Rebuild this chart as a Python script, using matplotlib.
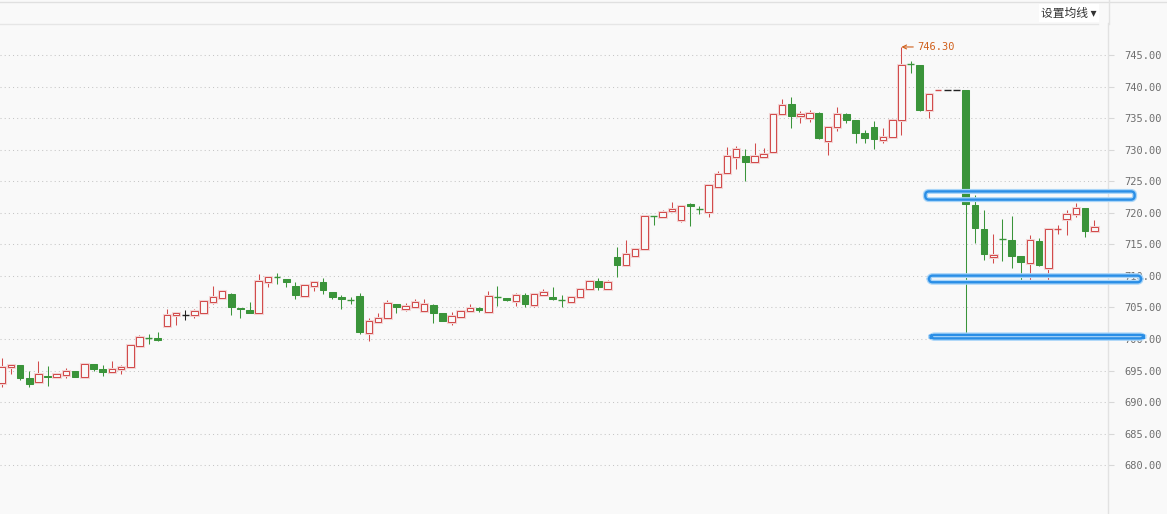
import numpy as np
import matplotlib.pyplot as plt
import matplotlib.patheffects as pe
from matplotlib.patches import FancyBboxPatch
from matplotlib.lines import Line2D

# daily OHLC (oldest first)
opens = [692.98, 695.6, 695.85, 693.8, 693.2, 694.2, 694.0, 694.35, 694.9, 693.95,
         696.0, 695.25, 694.8, 695.2, 695.6, 698.95, 700.15, 700.1, 702.06, 703.8,
         703.8, 703.75, 704.15, 705.9, 706.55, 707.1, 704.9, 704.6, 704.05, 709.1,
         709.85, 709.45, 708.4, 706.8, 708.45, 709.0, 707.4, 706.6, 706.25, 706.8,
         701.0, 702.75, 703.3, 705.5, 704.8, 705.1, 704.5, 705.4, 704.05, 702.75,
         703.55, 704.5, 704.9, 704.3, 706.65, 706.45, 706.1, 707.0, 705.4, 707.0,
         706.6, 706.25, 705.8, 706.7, 707.9, 709.2, 708.0, 713.0, 711.8, 713.2,
         714.3, 719.5, 719.4, 720.3, 718.9, 721.4, 720.6, 720.2, 724.1, 726.25,
         728.9, 729.0, 728.0, 728.9, 729.7, 735.6, 737.2, 735.3, 735.0, 735.8,
         731.4, 733.55, 735.65, 734.7, 732.7, 733.6, 731.6, 731.95, 734.8, 743.65,
         743.4, 736.3, 739.5, 739.55, 739.55, 739.55, 721.2, 717.5, 713.0, 715.9,
         715.65, 713.1, 712.1, 715.5, 711.2, 717.35, 718.95, 719.75, 720.7, 717.1]
highs = [697.0, 695.9, 695.9, 694.9, 696.5, 695.7, 694.6, 695.35, 695.0, 696.0,
         696.05, 695.9, 696.5, 695.9, 699.1, 700.65, 700.75, 701.15, 704.7, 704.1,
         704.6, 704.75, 706.05, 708.4, 707.7, 707.35, 704.9, 705.8, 710.25, 709.8,
         710.4, 709.5, 709.0, 708.7, 709.0, 709.6, 707.45, 707.0, 706.6, 707.3,
         703.4, 704.2, 706.2, 705.6, 705.7, 706.3, 706.3, 705.5, 704.1, 704.3,
         704.5, 705.5, 705.15, 707.6, 708.4, 706.5, 707.35, 707.3, 707.1, 707.9,
         708.3, 707.0, 706.7, 708.0, 709.2, 709.6, 709.4, 714.6, 715.7, 714.3,
         719.7, 719.5, 720.4, 721.65, 721.1, 721.5, 721.1, 724.5, 726.6, 730.4,
         730.6, 730.2, 731.1, 730.3, 735.6, 738.0, 738.4, 736.1, 736.3, 735.95,
         733.6, 736.8, 735.9, 734.8, 733.1, 734.55, 733.4, 734.9, 746.3, 744.05,
         743.5, 738.9, 739.55, 739.55, 739.55, 739.55, 722.8, 720.4, 716.6, 719.0,
         719.5, 713.1, 716.45, 716.0, 717.6, 718.05, 720.4, 721.6, 720.7, 718.85]
lows = [692.4, 694.5, 693.5, 692.4, 693.2, 692.6, 693.9, 693.85, 693.95, 693.9,
        695.0, 694.2, 694.8, 694.4, 695.6, 698.9, 699.15, 699.7, 702.0, 702.2,
        703.0, 703.3, 704.1, 705.5, 706.3, 703.8, 703.4, 704.1, 704.0, 708.2,
        708.7, 708.2, 706.3, 706.8, 707.65, 707.1, 706.3, 704.7, 705.5, 700.8,
        699.7, 702.7, 703.3, 704.1, 704.4, 705.1, 704.5, 702.5, 702.8, 702.2,
        703.3, 704.5, 704.3, 704.3, 705.2, 706.1, 705.2, 705.0, 705.0, 706.9,
        706.2, 705.1, 705.8, 706.7, 707.9, 707.8, 708.0, 709.9, 711.8, 713.0,
        714.3, 718.0, 719.3, 720.3, 718.6, 717.9, 719.75, 719.4, 724.0, 726.2,
        727.0, 725.0, 728.0, 728.9, 729.6, 735.5, 733.4, 734.3, 734.4, 731.7,
        729.2, 733.0, 734.2, 731.1, 731.1, 730.1, 731.0, 731.9, 732.3, 742.2,
        736.1, 735.1, 739.5, 739.55, 739.55, 700.4, 715.15, 712.5, 712.1, 712.4,
        711.2, 709.3, 709.1, 711.6, 709.1, 716.6, 716.5, 719.4, 716.1, 717.1]
closes = [695.6, 695.9, 693.85, 692.9, 694.5, 694.0, 694.4, 694.9, 694.0, 696.0,
          695.2, 694.8, 695.25, 695.6, 699.05, 700.25, 700.05, 699.85, 703.8, 704.05,
          703.8, 704.4, 706.0, 706.6, 707.6, 705.1, 704.7, 704.2, 709.15, 709.8,
          709.75, 709.1, 706.9, 708.6, 709.0, 707.7, 706.7, 706.3, 706.15, 701.15,
          702.85, 703.3, 705.65, 705.0, 705.2, 705.8, 705.5, 704.2, 702.9, 703.6,
          704.5, 704.9, 704.6, 706.8, 706.55, 706.2, 707.0, 705.5, 707.1, 707.4,
          706.3, 706.15, 706.7, 707.9, 709.2, 708.3, 709.1, 711.8, 713.4, 714.3,
          719.5, 719.4, 720.2, 720.6, 721.1, 721.1, 720.5, 724.4, 726.1, 729.0,
          730.05, 728.1, 729.0, 729.4, 735.6, 737.1, 735.4, 735.65, 735.8, 731.8,
          733.55, 735.6, 734.7, 732.7, 731.9, 731.7, 731.95, 734.8, 743.4, 743.55,
          736.3, 738.9, 739.55, 739.55, 739.55, 721.35, 717.6, 713.4, 713.25, 715.8,
          713.2, 712.2, 715.65, 711.7, 717.4, 717.45, 719.8, 720.7, 717.2, 717.7]

price_ticks = [680, 685, 690, 695, 700, 705, 710, 715, 720, 725, 730, 735, 740, 745]

# support / resistance boxes drawn over the chart: low, high, first and last bar
zone_lo = [722.1, 709.0, 700.1]
zone_hi = [723.4, 710.05, 700.65]
zone_x0 = [100.6, 101.0, 101.2]
zone_x1 = [123.4, 124.1, 124.4]

bg = '#f9f9f9'
up_col = '#d24c4c'
down_col = '#3a943a'
flat_col = '#222222'

W, H = 1167, 514
fig = plt.figure(figsize=(W / 100, H / 100), dpi=100, facecolor=bg)
ax = fig.add_axes([0, 0, 1108 / W, (H - 23) / H], facecolor=bg)

o = np.array(opens)
hi = np.array(highs)
lo = np.array(lows)
c = np.array(closes)
x = np.arange(len(o))
cols = np.where(c > o, up_col, np.where(c < o, down_col, flat_col))

bw = 0.72
lw = 0.75
glow = [pe.Stroke(linewidth=2.2, foreground='#f3d6d6'), pe.Normal()]

# wicks
ax.vlines(x, lo, hi, colors=cols, lw=lw, zorder=2)

# bodies
flat = np.abs(c - o) < 0.15
up = (c > o) & ~flat
dn = (c < o) & ~flat
bars = ax.bar(x[up], (c - o)[up], bottom=o[up], width=bw, facecolor=bg,
              edgecolor=up_col, lw=lw, zorder=3)
for b in bars:
    b.set_path_effects(glow)
ax.bar(x[dn], (c - o)[dn], bottom=o[dn], width=bw, facecolor=down_col,
       edgecolor=down_col, lw=lw, zorder=3)
ax.hlines((o + c)[flat] / 2, x[flat] - bw / 2, x[flat] + bw / 2,
          colors=cols[flat], lw=1.0, zorder=3)

# highest price marker
imax = int(np.argmax(hi))
ax.annotate(f'{hi[imax]:.2f}', xy=(imax, hi[imax]), xytext=(16, 0),
            textcoords='offset pixels', ha='left', va='center',
            color='#d0601c', fontsize=7.5, family='DejaVu Sans Mono',
            arrowprops=dict(arrowstyle='->', color='#d0601c', lw=0.8,
                            shrinkA=1, shrinkB=0, mutation_scale=7))

# hand drawn blue boxes
aspect = (1 / 6.3077) / (1 / 9.18)
blue_glow = [pe.Stroke(linewidth=3.6, foreground='#a9d5f8'), pe.Normal()]
for y0, y1, x0, x1 in zip(zone_lo, zone_hi, zone_x0, zone_x1):
    box = FancyBboxPatch((x0, y0), x1 - x0, y1 - y0,
                         boxstyle='round,pad=0,rounding_size=0.4',
                         mutation_aspect=aspect, facecolor='none',
                         edgecolor='#2a8ee6', lw=1.7, clip_on=False, zorder=10)
    box.set_path_effects(blue_glow)
    ax.add_patch(box)

ax.set_xlim(-0.185, 120.5)
ax.set_ylim(672.26, 750.1)
ax.set_yticks(price_ticks)
ax.set_yticklabels([f'{p:.2f}' for p in price_ticks])
ax.yaxis.tick_right()
ax.tick_params(axis='y', length=4, color='#d8d8d8', pad=8, labelsize=7.5,
               labelcolor='#6e6e6e')
for t in ax.get_yticklabels():
    t.set_family('DejaVu Sans Mono')
ax.set_xticks([])
ax.grid(axis='y', color='#c6c6c6', lw=0.75, linestyle=(0, (1, 3)))
for s in ['top', 'left', 'bottom']:
    ax.spines[s].set_visible(False)
ax.spines['right'].set_color('#e2e2e2')
ax.spines['right'].set_linewidth(1)

# frame lines of the widget
fig.add_artist(Line2D([0, 1], [1 - 1.5 / H] * 2, color='#e0e0e0', lw=1))
fig.add_artist(Line2D([0, 1098 / W], [1 - 23.5 / H] * 2, color='#e6e6e6', lw=1))
fig.add_artist(Line2D([1108.5 / W] * 2, [1 - 23.5 / H, 1], color='#e2e2e2', lw=1))

fig.text(1041 / W, 1 - 13 / H, '设置均线 ▾', ha='left', va='center', fontsize=8.5,
         color='#333333', family=['Noto Sans CJK SC', 'DejaVu Sans'],
         bbox=dict(facecolor='white', edgecolor='none', pad=1.5))

fig.savefig('out.png', dpi=100, facecolor=bg)
